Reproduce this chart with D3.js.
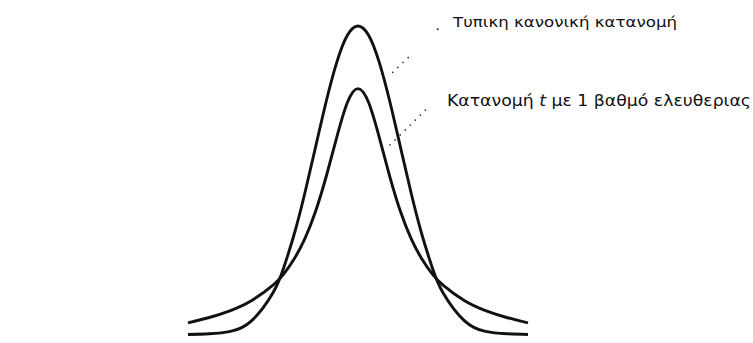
<!DOCTYPE html>
<html>
<head>
<meta charset="utf-8">
<script src="https://cdn.jsdelivr.net/npm/d3@7"></script>
<style>
  html, body { margin: 0; padding: 0; background: #fff; }
  svg { display: block; }
  text { font-family: "DejaVu Sans", "Liberation Sans", Arial, sans-serif; fill: #111; }
</style>
</head>
<body>
<svg id="chart" width="753" height="343"></svg>
<script>
// Sample points along the horizontal axis (in standard units)
const xValues = [-4, -3.5, -3, -2.5, -2, -1.75, -1.5, -1.25, -1, -0.75, -0.5, -0.25, 0,
                 0.25, 0.5, 0.75, 1, 1.25, 1.5, 1.75, 2, 2.5, 3, 3.5, 4];

// Standard normal density
const normalValues = [0.000, 0.001, 0.004, 0.018, 0.054, 0.086, 0.130, 0.183, 0.242, 0.301, 0.352, 0.387, 0.399,
                      0.387, 0.352, 0.301, 0.242, 0.183, 0.130, 0.086, 0.054, 0.018, 0.004, 0.001, 0.000];

// Student t density with 1 degree of freedom
const tValues = [0.015, 0.022, 0.031, 0.044, 0.064, 0.078, 0.098, 0.124, 0.159, 0.204, 0.255, 0.300, 0.318,
                 0.300, 0.255, 0.204, 0.159, 0.124, 0.098, 0.078, 0.064, 0.044, 0.031, 0.022, 0.015];

const labelNormal = "Τυπικη κανονική κατανομή";
const labelTBefore = "Κατανομή ";
const labelTItalic = "t";
const labelTAfter = " με 1 βαθμό ελευθεριας";

const svg = d3.select("#chart");

const x = d3.scaleLinear().domain([-4, 4]).range([188, 528]);
const y = d3.scaleLinear().domain([0, 0.4]).range([334.5, 25.2]);

const line = d3.line()
  .x(d => x(d[0]))
  .y(d => y(d[1]))
  .curve(d3.curveNatural);

const series = [
  d3.zip(xValues, normalValues),
  d3.zip(xValues, tValues)
];

svg.selectAll("path.curve")
  .data(series)
  .join("path")
  .attr("class", "curve")
  .attr("d", line)
  .attr("fill", "none")
  .attr("stroke", "#111")
  .attr("stroke-width", 2.9)
  .attr("stroke-linecap", "butt");

// Dotted leader lines from the labels to the curves
const leaders = [
  { x1: 392.7, y1: 72.3, x2: 413, y2: 53 },
  { x1: 390, y1: 145, x2: 427.5, y2: 108 }
];
svg.selectAll("line.leader")
  .data(leaders)
  .join("line")
  .attr("class", "leader")
  .attr("x1", d => d.x1).attr("y1", d => d.y1)
  .attr("x2", d => d.x2).attr("y2", d => d.y2)
  .attr("stroke", "#222")
  .attr("stroke-width", 1.6)
  .attr("stroke-linecap", "round")
  .attr("stroke-dasharray", "0.1 7");

svg.append("circle")
  .attr("cx", 437.7).attr("cy", 29.3).attr("r", 1)
  .attr("fill", "#222");

// Labels
svg.append("text")
  .attr("x", 453)
  .attr("y", 26.5)
  .attr("font-size", 14.5)
  .attr("textLength", 224)
  .attr("lengthAdjust", "spacingAndGlyphs")
  .text(labelNormal);

const t2 = svg.append("text")
  .attr("x", 447)
  .attr("y", 106.3)
  .attr("font-size", 15)
  .attr("textLength", 304)
  .attr("lengthAdjust", "spacingAndGlyphs");
t2.append("tspan").text(labelTBefore);
t2.append("tspan").attr("font-style", "italic").text(labelTItalic);
t2.append("tspan").text(labelTAfter);
</script>
</body>
</html>
